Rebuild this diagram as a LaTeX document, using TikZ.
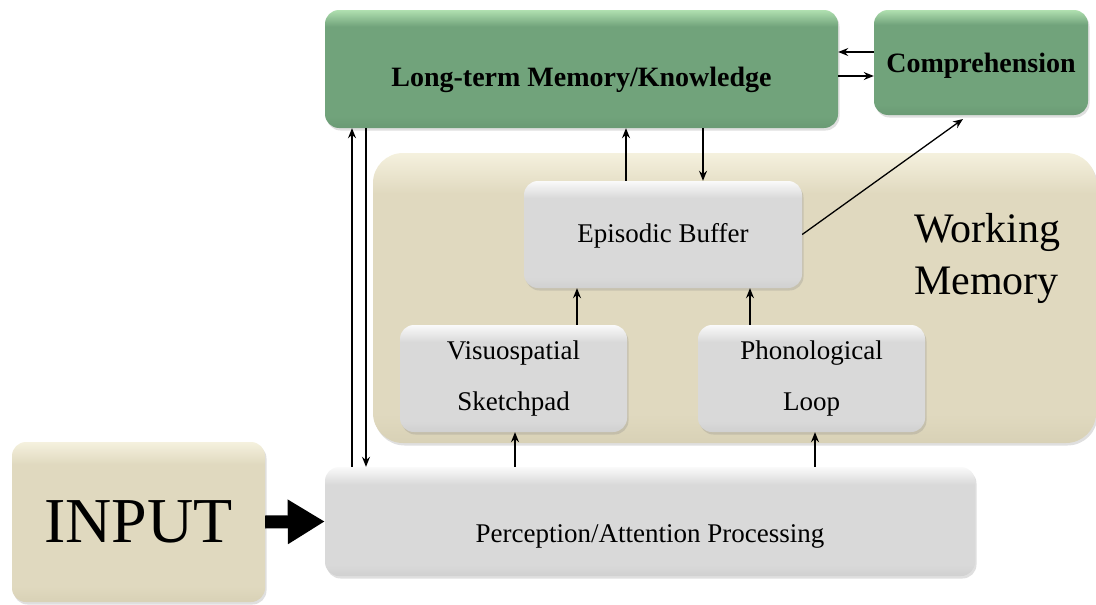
\documentclass[tikz,border=0pt]{standalone}
\usepackage{fontspec}
\setmainfont{Liberation Serif}
\usetikzlibrary{arrows.meta,shadows}
\definecolor{grnT}{HTML}{B0E0B0}
\definecolor{grnM}{HTML}{71A37B}
\definecolor{grnB}{HTML}{6A9A74}
\definecolor{bgeT}{HTML}{F5F1DE}
\definecolor{bgeM}{HTML}{E0D9BF}
\definecolor{bgeB}{HTML}{D8D1B6}
\definecolor{gryT}{HTML}{FAFAFA}
\definecolor{gryM}{HTML}{D9D9D9}
\definecolor{gryB}{HTML}{D0D0D0}
\pgfdeclareverticalshading{greenshade}{100bp}{color(0bp)=(grnB); color(25bp)=(grnB); color(30bp)=(grnM); color(68bp)=(grnM); color(75bp)=(grnT); color(100bp)=(grnT)}
\pgfdeclareverticalshading{beigeshade}{100bp}{color(0bp)=(bgeB); color(25bp)=(bgeB); color(30bp)=(bgeM); color(68bp)=(bgeM); color(75bp)=(bgeT); color(100bp)=(bgeT)}
\pgfdeclareverticalshading{grayshade}{100bp}{color(0bp)=(gryB); color(25bp)=(gryB); color(30bp)=(gryM); color(67bp)=(gryM); color(75bp)=(gryT); color(100bp)=(gryT)}
\tikzset{
  box/.style={rounded corners=14pt, inner sep=0pt, align=center, draw=none,
    drop shadow={shadow xshift=1.5pt, shadow yshift=-2.5pt, opacity=.25}},
  greenbox/.style={box, shading=greenshade,
    font=\fontsize{28}{34}\selectfont\bfseries},
  graybox/.style={box, shading=grayshade,
    font=\fontsize{27}{51}\selectfont},
  beigebox/.style={box, shading=beigeshade},
  arr/.style={line width=1.3pt, -{Stealth[length=10pt,width=8pt]}},
  bigarr/.style={line width=13pt, -{Triangle[length=37pt,width=42pt]}}
}
\begin{document}
\begin{tikzpicture}[x=1pt,y=-1pt]
\useasboundingbox (0,0) rectangle (1096,605);
% containers
\node[beigebox, rounded corners=30pt, minimum width=723pt, minimum height=290pt] (wm) at (734.5,298) {};
\node[inner sep=0pt, anchor=north west, align=left, font=\fontsize{42}{52}\selectfont] (wmlabel) at (914,213) {Working\\Memory};
% boxes
\node[greenbox, minimum width=513pt, minimum height=118pt, text height=40pt, text depth=6pt] (ltm) at (581.5,69) {Long-term Memory/Knowledge};
\node[greenbox, minimum width=214pt, minimum height=105pt, text height=25pt, text depth=6pt] (comp) at (981,62.5) {Comprehension};
\node[graybox, minimum width=278pt, minimum height=107pt, text height=21pt, text depth=6pt] (eb) at (663,234.5) {Episodic Buffer};
\node[graybox, minimum width=227pt, minimum height=107pt] (vs) at (513.5,378.5) {Visuospatial\\Sketchpad};
\node[graybox, minimum width=227pt, minimum height=107pt] (pl) at (811.5,378.5) {Phonological\\Loop};
\node[beigebox, minimum width=253pt, minimum height=160pt, font=\fontsize{64}{70}\selectfont] (inp) at (138.5,522) {INPUT};
\node[graybox, minimum width=650pt, minimum height=109pt, text height=47pt, text depth=6pt] (perc) at (650,521.5) {Perception/Attention Processing};
% helper coordinates for connector positions
\coordinate (xa) at (352,0);
\coordinate (xb) at (366,0);
\coordinate (xc) at (626,0);
\coordinate (xd) at (703,0);
\coordinate (xe) at (577,0);
\coordinate (xf) at (750,0);
\coordinate (xg) at (515,0);
\coordinate (xh) at (815,0);
\coordinate (ya) at (0,52);
\coordinate (yb) at (0,76);
\coordinate (ct) at (963,119);
% connectors
\draw[bigarr] (inp.east) -- (perc.west);
\draw[arr] (perc.north -| xa) -- (ltm.south -| xa);
\draw[arr] (ltm.south -| xb) -- (perc.north -| xb);
\draw[arr] (eb.north -| xc) -- (ltm.south -| xc);
\draw[arr] (ltm.south -| xd) -- (eb.north -| xd);
\draw[arr] (vs.north -| xe) -- (eb.south -| xe);
\draw[arr] (pl.north -| xf) -- (eb.south -| xf);
\draw[arr] (perc.north -| xg) -- (vs.south -| xg);
\draw[arr] (perc.north -| xh) -- (pl.south -| xh);
\draw[arr] (eb.east) -- (ct);
\draw[arr] (comp.west |- ya) -- (ltm.east |- ya);
\draw[arr] (ltm.east |- yb) -- (comp.west |- yb);
\end{tikzpicture}
\end{document}
